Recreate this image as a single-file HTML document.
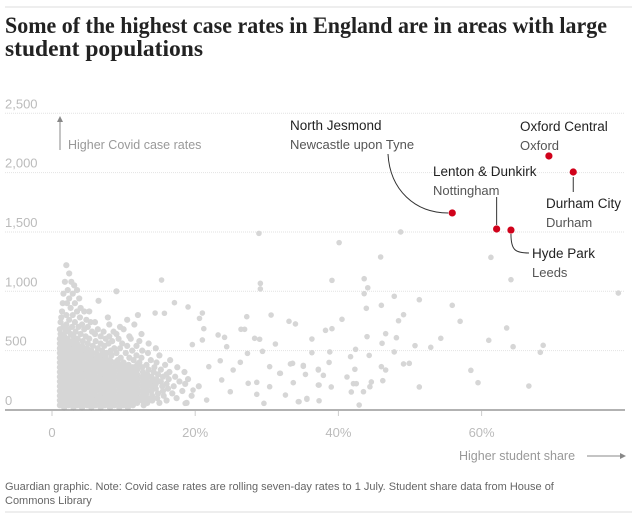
<!DOCTYPE html>
<html><head><meta charset="utf-8"><style>
html,body{margin:0;padding:0;background:#fff;}
svg{display:block;font-family:"Liberation Sans",sans-serif;}
</style></head><body>
<svg id="chart" width="637" height="517" viewBox="0 0 637 517">
<line x1="5" y1="7" x2="632" y2="7" stroke="#dcdcdc" stroke-width="1"/>
<text font-family="'Liberation Serif',serif" font-weight="bold" font-size="23" fill="#222" x="5" y="33" textLength="602" lengthAdjust="spacingAndGlyphs">Some of the highest case rates in England are in areas with large</text>
<text font-family="'Liberation Serif',serif" font-weight="bold" font-size="23" fill="#222" x="5" y="56" textLength="198" lengthAdjust="spacingAndGlyphs">student populations</text>
<g id="grid"></g>
<g id="dots"></g>
<g id="annos"></g>
<g>
<line x1="60" y1="150" x2="60" y2="120" stroke="#888" stroke-width="1"/>
<path d="M57,122 L60,116 L63,122 Z" fill="#888"/>
<text x="68" y="149" font-size="12.5" fill="#999">Higher Covid case rates</text>
</g>
<g>
<text x="459" y="460" font-size="12.5" fill="#999">Higher student share</text>
<line x1="587" y1="456" x2="622" y2="456" stroke="#888" stroke-width="1"/>
<path d="M620,453 L626,456 L620,459 Z" fill="#888"/>
</g>
<text x="5" y="490" font-size="11" fill="#666">Guardian graphic. Note: Covid case rates are rolling seven-day rates to 1 July. Student share data from House of</text>
<text x="5" y="504" font-size="11" fill="#666">Commons Library</text>
<line x1="5" y1="512" x2="632" y2="512" stroke="#dcdcdc" stroke-width="1"/>
</svg>
<script>
const yTicks=[0,500,1000,1500,2000,2500];
const yTickLabels=["0","500","1,000","1,500","2,000","2,500"];
const xTicks=[0,20,40,60];
const xTickLabels=["0","20%","40%","60%"];
// dense cluster rows: rate value, shares at that rate
const clusterRates=[1220,1150,1080,1050,1010,1000,980,940,920,900,860,830,800,780,760,740,720,700,680,660,640,620,600,580,560,540,520,500,480,460,440,420,400,380,360,340,320,300,280,260,240,220,200,180,160,140,120,100,80,60,40,20];
const clusterShares=[[2],[2.4],[1.8,2.7],[3.1],[2.2,3.5],[9],[1.6,2.9],[2.4,3.8],[6.5],[1.5,2.1,3.2],[2.6,4],[1.4,3.5,4.5,5.2],[2,2.9,12],[1.3,3.9,7.8],[2.4,4.8,10.5],[1.2,3.2,5.4,6],[2,4.2,8,11.5],[1.6,2.8,3.7,5,9.5],[1.1,2.3,4.5,6.4,10],[1.9,3.3,5.6,7.2,8.6],[1.2,2.6,4,6,9,12.5],[1.7,3,4.7,6.8,8,10.8],[1.1,2.2,3.6,5.2,7.5,9.3,11],[1.6,2.9,4.3,6.1,8.4,12.2],[1.1,2.3,3.5,5,6.8,7.9,9.8,13.5],[1.7,3,4.2,5.7,7.3,10.5,11.8],[1.1,2.4,3.6,4.9,6.4,8.7,9.5,14.5],[1.7,3,4.3,5.5,7,8.2,11.2,12.6],[1.1,2.3,3.6,4.8,6.2,7.6,9,10.3,13.4],[1.7,3,4.2,5.5,6.9,8.3,11.8,15],[1.1,2.3,3.6,4.9,6.2,7.5,9.6,10.8,12.5],[1.7,3,4.2,5.6,6.8,8.1,9.2,11.4,13.8,16.5],[1.1,2.3,3.6,4.9,6.2,7.4,8.7,10,12.2,14.6],[1.7,3,4.2,5.5,6.8,8,9.4,10.7,11.9,13.2,15.8],[1.1,2.3,3.6,4.9,6.1,7.4,8.7,10,11.3,12.6,14.3,17.5],[1.7,3,4.2,5.5,6.8,8.1,9.4,10.6,11.9,13.5,15.2],[1.1,2.3,3.6,4.9,6.1,7.4,8.7,10,11.3,12.7,14.2,16.4,18.5],[1.7,3,4.2,5.5,6.8,8.1,9.4,10.6,11.9,13.3,14.8,16],[1.1,2.3,3.6,4.9,6.1,7.4,8.7,10,11.3,12.6,13.9,15.5,17.2],[1.7,3,4.2,5.5,6.8,8.1,9.4,10.6,11.9,13.2,14.6,16.3,19],[1.1,2.3,3.6,4.9,6.1,7.4,8.7,10,11.3,12.6,13.9,15.2,17.8],[1.7,3,4.2,5.5,6.8,8.1,9.4,10.6,11.9,13.2,14.5,16,18.6],[1.1,2.3,3.6,4.9,6.1,7.4,8.7,10,11.3,12.6,13.9,15.4,17,20.5],[1.7,3,4.2,5.5,6.8,8.1,9.4,10.6,11.9,13.2,14.5,16.2],[1.1,2.3,3.6,4.9,6.1,7.4,8.7,10,11.3,12.6,13.9,15.5,18.2],[1.7,3,4.2,5.5,6.8,8.1,9.4,10.6,11.9,13.2,14.8,16.8],[1.1,2.3,3.6,4.9,6.1,7.4,8.7,10,11.3,12.6,14,15.6,19.5],[1.7,3,4.2,5.5,6.8,8.1,9.4,10.6,11.9,13.3,14.7,17.4],[1.1,2.3,3.6,4.9,6.1,7.4,8.7,10,11.3,12.6,14,16],[1.7,3,4.2,5.5,6.8,8.1,9.4,10.6,11.9,13.3,15,18.8],[1.1,2.3,3.6,4.9,6.1,7.4,8.7,10,11.3,12.8],[1.7,3,4.2,5.5,6.8,8.1,9.4,10.6]];
// sparse wards
const sparseShares=[28.9,29.1,29.1,15.3,17.1,19,21,14.4,15.7,27.2,30.6,33.1,34,20.6,21.2,23.2,24.1,26.4,26.9,28.3,29,31.2,36.3,36.3,29.4,27.3,21,19.6,21.9,25.3,26.3,27.4,28.6,30.4,30.4,31.9,33.6,33.7,32.6,29.6,34.5,35.6,37.2,37.2,35.1,24.4,23.5,23.7,24.9,28.6,21.6,18.6,19.7,48.7,40.1,45.9,61.3,39.1,43.6,44.1,43.6,64.1,79.1,47.8,51.3,43.9,46,55.9,49.1,48.4,40.5,57,63.5,39.1,38.2,46.6,44,48.1,54.3,61,46.1,42.4,50.7,52.9,64.4,68.6,68.2,38.8,47.8,41.7,44.3,33.3,35.1,38.7,46,46.6,49.1,49.9,58.5,37.2,35.4,42.3,37.9,37.3,39,41.2,42.1,42.5,44.6,44.4,46.2,51.3,59.5,66.6,34.4,35.6,37.3,41.8,43.5,42.9,31.8];
const sparseRates=[1488,1067,1020,1095,904,868,817,817,815,786,800,747,725,772,685,632,612,680,680,604,596,556,598,483,494,477,590,551,365,337,402,225,233,365,196,309,393,230,126,56,70,90,343,210,376,533,415,253,154,132,84,56,168,1500,1410,1289,1286,1092,1106,1030,980,1098,985,958,929,857,882,882,803,752,764,747,691,685,671,643,618,609,604,587,562,511,542,528,533,545,486,489,489,449,460,388,368,401,365,337,388,393,334,337,300,343,292,210,194,278,222,222,236,196,247,194,230,202,70,98,78,152,154,42,309];
const hiNames=["North Jesmond","Lenton & Dunkirk","Hyde Park","Oxford Central","Durham City"];
const hiShares=[55.9,62.1,64.1,69.4,72.8];
const hiRates=[1660,1525,1516,2140,2005];

const NS="http://www.w3.org/2000/svg";
const X0=52, XS=7.16, Y0=410, YS=0.1187;
function xs(v){return X0+v*XS;}
function ys(v){return Y0-v*YS;}
function mk(tag,attrs,parent){const e=document.createElementNS(NS,tag);for(const k in attrs)e.setAttribute(k,attrs[k]);parent.appendChild(e);return e;}

const grid=document.getElementById('grid');
yTicks.forEach((t,i)=>{
  if(t>0){
    const l=mk('line',{x1:5,x2:625,y1:ys(t),y2:ys(t),stroke:'#e2e2e2','stroke-dasharray':'1,1'},grid);
    
    
  }
  const tx=mk('text',{x:5,y:ys(t)-5,'font-size':13,fill:'#bbb'},grid);
  tx.textContent=yTickLabels[i];
  
  
});
xTicks.forEach((t,i)=>{
  const l=mk('line',{x1:xs(t),x2:xs(t),y1:411,y2:416,stroke:'#ccc'},grid);
  
  
  const tx=mk('text',{x:xs(t),y:437,'font-size':13,fill:'#bbb','text-anchor':'middle'},grid);
  tx.textContent=xTickLabels[i];
  
  
});

const dots=document.getElementById('dots');
clusterRates.forEach((r,i)=>{
  clusterShares[i].forEach(s=>{
    const c=mk('circle',{cx:xs(s),cy:ys(r),r:3.1,fill:'#d6d6d6'},dots);
    
    
  });
});
sparseShares.forEach((s,i)=>{
  const c=mk('circle',{cx:xs(s),cy:ys(sparseRates[i]),r:2.8,fill:'#d6d6d6'},dots);
  
  
});
const axis=mk('line',{x1:5,x2:625,y1:410,y2:410,stroke:'#999','stroke-width':1.5},dots);



const an=document.getElementById('annos');
const H=hiShares.map((s,i)=>[xs(s),ys(hiRates[i])]);
function path(d){const p=mk('path',{d:d,fill:'none',stroke:'#333','stroke-width':1},an);}
path(`M388,154 C390,190 415,${H[0][1]} ${H[0][0]-4},${H[0][1]}`);
path(`M${H[1][0]},197 L${H[1][0]},${H[1][1]-4}`);
path(`M${H[2][0]},${H[2][1]+4} C${H[2][0]},250 515,253 529,253`);
path(`M${H[4][0]},${H[4][1]+5} L${H[4][0]},192`);
hiShares.forEach((s,i)=>{
  const c=mk('circle',{cx:xs(s),cy:ys(hiRates[i]),r:3.6,fill:'#d0021b'},an);
  
  
});
const labels=[["North Jesmond","Newcastle upon Tyne",290,130],["Lenton & Dunkirk","Nottingham",433,176],["Hyde Park","Leeds",532,258],["Oxford Central","Oxford",520,131],["Durham City","Durham",546,208]];
labels.forEach(l=>{
  const t1=mk('text',{x:l[2],y:l[3],'font-size':13.5,fill:'#222'},an);
  t1.textContent=l[0];
  
  
  const t2=mk('text',{x:l[2],y:l[3]+19,'font-size':13,fill:'#555'},an);
  t2.textContent=l[1];
  
  
});
</script>
</body></html>
